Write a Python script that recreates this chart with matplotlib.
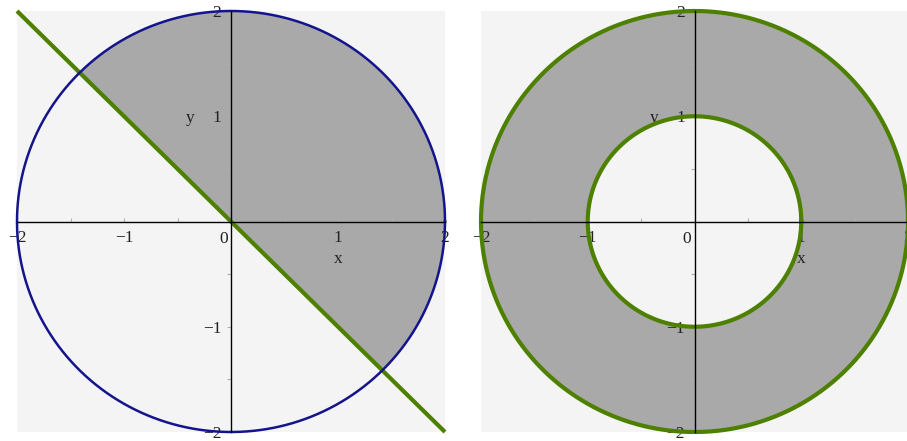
import numpy as np
import matplotlib
matplotlib.use("Agg")
import matplotlib.pyplot as plt
from matplotlib.patches import Polygon

plt.rcParams['font.family'] = ['Liberation Serif', 'DejaVu Serif']

# Region data
outer_radius = 2.0
inner_radius = 1.0
line_slope = -1.0            # boundary line y = -x
axis_range = (-2, 2)
tick_values = [-2, -1.5, -1, -0.5, 0.5, 1, 1.5, 2]
tick_labels = ['\u22122', '', '\u22121', '', '', '1', '', '2']

bg = '#f4f4f4'
fill_gray = '#a9a9a9'
navy = '#14148c'
green = '#4e8000'
text_col = '#222222'
fs = 12.5


def style_axes(ax):
    ax.set_xlim(*axis_range)
    ax.set_ylim(*axis_range)
    ax.set_facecolor(bg)
    ax.set_aspect('auto')
    for side in ('top', 'right'):
        ax.spines[side].set_visible(False)
    for side in ('left', 'bottom'):
        ax.spines[side].set_position(('data', 0))
        ax.spines[side].set_color('black')
        ax.spines[side].set_linewidth(1.0)
        ax.spines[side].set_zorder(4)
    ax.set_xticks(tick_values)
    ax.set_xticklabels(tick_labels)
    ax.set_yticks(tick_values)
    ax.set_yticklabels(tick_labels)
    ax.tick_params(axis='x', direction='in', length=3, color='#b0b0b0',
                   labelsize=fs, labelcolor=text_col, pad=6)
    ax.tick_params(axis='y', direction='out', length=3, color='#b0b0b0',
                   labelsize=fs, labelcolor=text_col, pad=4)
    ax.text(-0.07, -0.17, '0', ha='center', va='center', fontsize=fs, color=text_col)
    ax.text(1.0, -0.36, 'x', ha='center', va='center', fontsize=fs, color=text_col)
    ax.text(-0.38, 0.98, 'y', ha='center', va='center', fontsize=fs, color=text_col)


fig = plt.figure(figsize=(9.07, 4.41), dpi=100)
W, H = 907, 441
ax1 = fig.add_axes([17 / W, 9 / H, 428 / W, 421 / H])
ax2 = fig.add_axes([481 / W, 9 / H, 427 / W, 421 / H])

# Left: disk of radius 2 split by the line y = -x, upper part shaded
style_axes(ax1)
t_half = np.linspace(-np.pi / 4, 3 * np.pi / 4, 300)
half = np.column_stack([outer_radius * np.cos(t_half), outer_radius * np.sin(t_half)])
ax1.add_patch(Polygon(half, closed=True, facecolor=fill_gray, edgecolor='none', zorder=1))
xs = np.array(axis_range, dtype=float)
ax1.plot(xs, line_slope * xs, color=green, lw=3, zorder=3, clip_on=False,
         solid_capstyle='butt')
t = np.linspace(0, 2 * np.pi, 600)
ax1.plot(outer_radius * np.cos(t), outer_radius * np.sin(t), color=navy, lw=1.8,
         zorder=3.5, clip_on=False)

# Right: annulus between radii 1 and 2
style_axes(ax2)
ring = np.concatenate([
    np.column_stack([outer_radius * np.cos(t), outer_radius * np.sin(t)]),
    np.column_stack([inner_radius * np.cos(t[::-1]), inner_radius * np.sin(t[::-1])]),
])
ax2.add_patch(Polygon(ring, closed=True, facecolor=fill_gray, edgecolor='none', zorder=1))
for r in (outer_radius, inner_radius):
    ax2.plot(r * np.cos(t), r * np.sin(t), color=green, lw=3, zorder=3.5, clip_on=False)

fig.savefig('out.png', dpi=100, facecolor='white')
